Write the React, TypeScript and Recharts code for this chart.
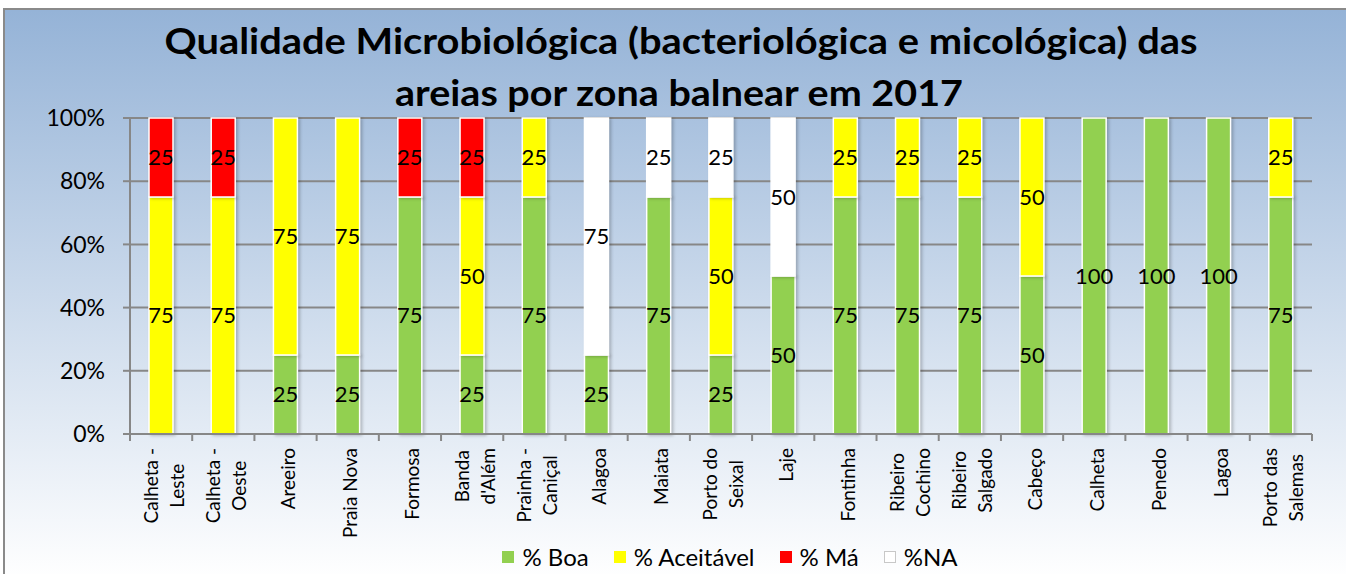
import React from 'react';
import { BarChart, Bar, XAxis, YAxis, CartesianGrid, Legend, LabelList } from 'recharts';

const categories = [
  'Calheta -\nLeste',
  'Calheta -\nOeste',
  'Areeiro',
  'Praia Nova',
  'Formosa',
  "Banda\nd'Além",
  'Prainha -\nCaniçal',
  'Alagoa',
  'Maiata',
  'Porto do\nSeixal',
  'Laje',
  'Fontinha',
  'Ribeiro\nCochino',
  'Ribeiro\nSalgado',
  'Cabeço',
  'Calheta',
  'Penedo',
  'Lagoa',
  'Porto das\nSalemas',
];
const boa = [0, 0, 25, 25, 75, 25, 75, 25, 75, 25, 50, 75, 75, 75, 50, 100, 100, 100, 75];
const aceitavel = [75, 75, 75, 75, 0, 50, 25, 0, 0, 50, 0, 25, 25, 25, 50, 0, 0, 0, 25];
const ma = [25, 25, 0, 0, 25, 25, 0, 0, 0, 0, 0, 0, 0, 0, 0, 0, 0, 0, 0];
const na = [0, 0, 0, 0, 0, 0, 0, 75, 25, 25, 50, 0, 0, 0, 0, 0, 0, 0, 0];
const yTicks = [0, 20, 40, 60, 80, 100];
const titleLines = [
  'Qualidade Microbiológica (bacteriológica e micológica) das',
  'areias por zona balnear em 2017',
];

const series = [
  { key: 'boa', label: '% Boa', color: '#92d050' },
  { key: 'aceitavel', label: '% Aceitável', color: '#ffff00' },
  { key: 'ma', label: '% Má', color: '#ff0000' },
  { key: 'na', label: '%NA', color: '#ffffff' },
];

const data = categories.map((name, i) => ({
  name,
  boa: boa[i],
  aceitavel: aceitavel[i],
  ma: ma[i],
  na: na[i],
}));

const FONT = "Lato, 'Liberation Sans', sans-serif";
const AXIS = '#878787';
const CAT_FONT_SIZE = 19;

let measureCtx: CanvasRenderingContext2D | null = null;
function textWidth(text: string, font: string) {
  if (!measureCtx) measureCtx = document.createElement('canvas').getContext('2d');
  if (!measureCtx) return text.length * 9;
  measureCtx.font = font;
  return measureCtx.measureText(text).width;
}

// rotated, multi-line category labels + tick marks on the band edges (Excel style)
function CategoryTick(props: any) {
  const { x, y, payload, index } = props;
  const half = payload.offset || 31;
  const lines = String(payload.value).split('\n');
  const maxW = Math.max(...lines.map((l) => textWidth(l, `${CAT_FONT_SIZE}px Lato`)));
  const cy = y + 14 + maxW / 2;
  const gap = 26;
  return (
    <g>
      <line x1={x - half} x2={x - half} y1={y} y2={y + 7} stroke={AXIS} strokeWidth={2} />
      {index === categories.length - 1 && (
        <line x1={x + half} x2={x + half} y1={y} y2={y + 7} stroke={AXIS} strokeWidth={2} />
      )}
      {lines.map((l, i) => {
        const lx = x + 2 + (i - (lines.length - 1) / 2) * gap;
        return (
          <text
            key={i}
            x={lx}
            y={cy}
            transform={`rotate(-90 ${lx} ${cy})`}
            textAnchor="middle"
            dominantBaseline="central"
            fontFamily={FONT}
            fontSize={CAT_FONT_SIZE}
            fill="#000"
          >
            {l}
          </text>
        );
      })}
    </g>
  );
}

const LegendContent = () => (
  <div
    style={{
      display: 'flex',
      justifyContent: 'center',
      gap: 25,
      fontFamily: FONT,
      fontSize: 24,
      lineHeight: '29px',
      color: '#000',
    }}
  >
    {series.map((s) => (
      <span key={s.key} style={{ display: 'flex', alignItems: 'center' }}>
        <span
          style={{
            display: 'inline-block',
            width: 12,
            height: 12,
            marginRight: 8,
            background: s.color,
            border: s.key === 'na' ? '1px solid #c8c8c8' : 'none',
            boxSizing: 'border-box',
          }}
        />
        {s.label}
      </span>
    ))}
  </div>
);

export default function App() {
  return (
    <div style={{ position: 'absolute', left: 0, top: 0, width: 1346, height: 574, overflow: 'hidden' }}>
      {/* soft shadow on the bars, like the Excel original */}
      <style>{`.recharts-bar-rectangle path { filter: drop-shadow(2px 1px 1.5px rgba(0,0,0,0.22)); }`}</style>
      <div
        style={{
          position: 'absolute',
          left: 3,
          top: 8,
          width: 1342,
          height: 570,
          border: '2px solid #8a8a8a',
          background: 'linear-gradient(to bottom, #95b3d7 0%, #ffffff 100%)',
        }}
      />
      <div style={{ position: 'absolute', left: 0, top: 0 }}>
        <BarChart
          width={1346}
          height={574}
          data={data}
          barSize={24}
          margin={{ top: 118, right: 34, left: 0, bottom: 40 }}
        >
          <CartesianGrid vertical={false} stroke={AXIS} strokeWidth={2} />
          <XAxis
            dataKey="name"
            interval={0}
            height={100}
            tickSize={0}
            tickMargin={0}
            tickLine={false}
            axisLine={{ stroke: AXIS, strokeWidth: 2 }}
            tick={<CategoryTick />}
          />
          <YAxis
            domain={[0, 100]}
            ticks={yTicks}
            tickFormatter={(v) => `${v}%`}
            width={130}
            axisLine={{ stroke: AXIS, strokeWidth: 2 }}
            tickLine={{ stroke: AXIS, strokeWidth: 2 }}
            tickSize={7}
            tickMargin={18}
            tick={{ fontSize: 23, fill: '#000', fontFamily: FONT }}
          />
          <Legend
            layout="horizontal"
            verticalAlign="middle"
            align="center"
            content={<LegendContent />}
            wrapperStyle={{ top: 542, left: 114, width: 1232 }}
          />
          {series.map((s) => (
            <Bar
              key={s.key}
              dataKey={s.key}
              name={s.label}
              stackId="a"
              fill={s.color}
              stroke="#ffffff"
              strokeWidth={1.5}
              isAnimationActive={false}
            >
              <LabelList
                dataKey={s.key}
                position="center"
                formatter={(v: any) => (v ? v : null)}
                fill="#000"
                fontSize={22}
                fontFamily={FONT}
              />
            </Bar>
          ))}
        </BarChart>
      </div>
      <svg
        width={1346}
        height={120}
        style={{ position: 'absolute', left: 0, top: 0, pointerEvents: 'none' }}
      >
        <text
          x={681}
          y={54}
          textAnchor="middle"
          fontFamily={FONT}
          fontWeight={700}
          fontSize={37}
          textLength={1033}
          lengthAdjust="spacingAndGlyphs"
          fill="#000"
        >
          {titleLines[0]}
        </text>
        <text
          x={679}
          y={106}
          textAnchor="middle"
          fontFamily={FONT}
          fontWeight={700}
          fontSize={37}
          textLength={568}
          lengthAdjust="spacingAndGlyphs"
          fill="#000"
        >
          {titleLines[1]}
        </text>
      </svg>
    </div>
  );
}
